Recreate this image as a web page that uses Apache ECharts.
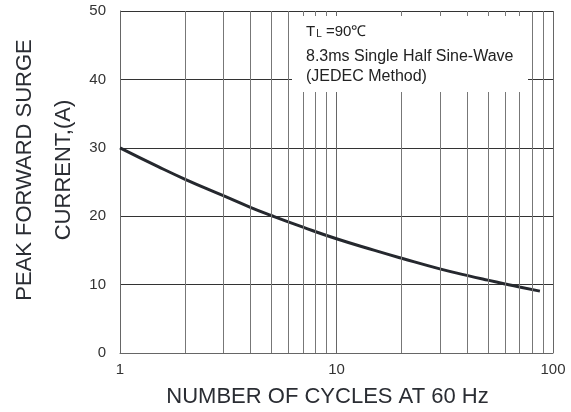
<!DOCTYPE html>
<html><head><meta charset="utf-8">
<script src="https://cdn.jsdelivr.net/npm/echarts@6/dist/echarts.min.js"></script>
<style>html,body{margin:0;padding:0;background:#fff}#c{width:571px;height:412px}</style>
</head><body><div id="c"></div>
<script>
const cycles = [1, 1.5, 2, 3, 4, 5, 7, 10, 15, 20, 30, 40, 50, 60, 70, 87];
const current = [30, 27.25, 25.4, 23.0, 21.3, 20.1, 18.4, 16.7, 15.0, 13.85, 12.3, 11.35, 10.65, 10.1, 9.65, 9.05];
const minorX = [2, 3, 4, 5, 6, 7, 8, 9, 20, 30, 40, 50, 60, 70, 80, 90];
const yTicks = [0, 10, 20, 30, 40, 50];

const chart = echarts.init(document.getElementById('c'));
const font = '"Liberation Sans", Arial, sans-serif';
chart.setOption({
  animation: false,
  grid: { left: 120, right: 18, top: 11, bottom: 59, containLabel: false, outerBoundsMode: 'none' },
  xAxis: {
    type: 'log', logBase: 10, min: 1, max: 100,
    name: 'NUMBER OF CYCLES AT 60 Hz', nameLocation: 'middle', nameGap: 33, nameMoveOverlap: false,
    nameTextStyle: { fontFamily: font, fontSize: 22, color: '#2a2d33', padding: [0, 18, 0, 0] },
    axisLine: { lineStyle: { color: '#666', width: 1 } },
    axisTick: { show: false },
    axisLabel: { fontFamily: font, fontSize: 15, color: '#333', margin: 9 },
    splitLine: { show: true, lineStyle: { color: '#666', width: 1 } }
  },
  yAxis: {
    type: 'value', min: 0, max: 50, interval: 10,
    name: 'PEAK FORWARD SURGE\nCURRENT,(A)', nameLocation: 'middle', nameGap: 37, nameRotate: 90, nameMoveOverlap: false,
    nameTextStyle: { fontFamily: font, fontSize: 22, color: '#2a2d33', lineHeight: 39, padding: [0, 0, 0, 24] },
    axisLine: { show: true, lineStyle: { color: '#666', width: 1 } },
    axisTick: { show: false },
    axisLabel: { fontFamily: font, fontSize: 15, color: '#333', margin: 14 },
    splitLine: { show: true, lineStyle: { color: '#333', width: 1 } }
  },
  series: [{
    type: 'line',
    data: cycles.map((c, i) => [c, current[i]]),
    smooth: 0.5, showSymbol: false,
    lineStyle: { color: '#25282e', width: 3 },
    z: 3,
    markLine: {
      silent: true, symbol: 'none', label: { show: false },
      lineStyle: { color: '#777', width: 1, type: 'solid' },
      data: minorX.map(v => ({ xAxis: v }))
    }
  }],
  graphic: [
    { type: 'rect', left: 292, top: 16, z: 100, shape: { width: 236, height: 76 }, style: { fill: '#fff' } },
    { type: 'text', left: 306, top: 24, z: 101,
      style: { text: '{a|T}{s|L}{a| =90℃}', rich: { a: { fontFamily: font, fontSize: 15, fill: '#222' }, s: { fontFamily: font, fontSize: 10, fill: '#222', padding: [5, 0, 0, 1] } } } },
    { type: 'text', left: 306, top: 47, z: 101,
      style: { text: '8.3ms Single Half Sine-Wave\n(JEDEC Method)', fontFamily: font, fontSize: 16, fill: '#222', lineHeight: 19.5 } }
  ]
});
</script></body></html>
